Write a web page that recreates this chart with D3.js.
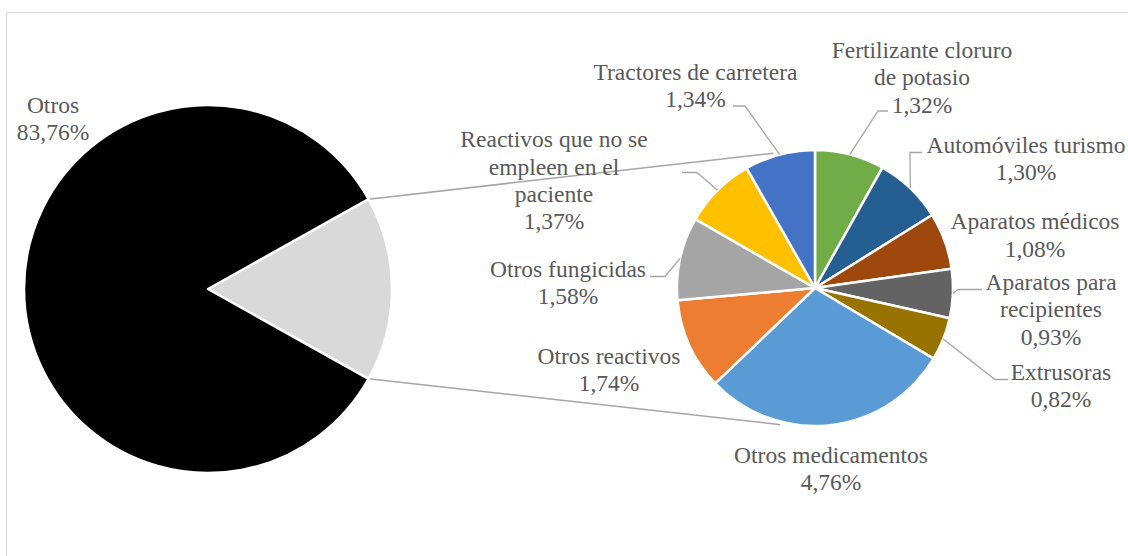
<!DOCTYPE html>
<html>
<head>
<meta charset="utf-8">
<script src="https://cdn.jsdelivr.net/npm/d3@7"></script>
<style>
  html, body { margin: 0; padding: 0; background: #ffffff; }
  svg { display: block; }
  text { font-family: "Times New Roman", "Liberation Serif", Tinos, "DejaVu Serif", serif; font-size: 23.5px; fill: #595959; }
</style>
</head>
<body>
<svg id="chart" width="1128" height="556"></svg>
<script>
// Main pie: the large share plus the aggregate broken out in the detail pie
const mainCategories = ["Otros"];
const mainValues = [83.76];
const mainColors = ["#000000", "#D9D9D9"];

// Detail pie, clockwise from 12 o'clock
const detailCategories = [
  "Fertilizante cloruro de potasio",
  "Automóviles turismo",
  "Aparatos médicos",
  "Aparatos para recipientes",
  "Extrusoras",
  "Otros medicamentos",
  "Otros reactivos",
  "Otros fungicidas",
  "Reactivos que no se empleen en el paciente",
  "Tractores de carretera"
];
const detailValues = [1.32, 1.30, 1.08, 0.93, 0.82, 4.76, 1.74, 1.58, 1.37, 1.34];
const detailLabelLines = [
  ["Fertilizante cloruro", "de potasio"],
  ["Automóviles turismo"],
  ["Aparatos médicos"],
  ["Aparatos para", "recipientes"],
  ["Extrusoras"],
  ["Otros medicamentos"],
  ["Otros reactivos"],
  ["Otros fungicidas"],
  ["Reactivos que no se", "empleen en el", "paciente"],
  ["Tractores de carretera"]
];
const detailColors = ["#70AD47", "#255E91", "#9E480E", "#636363", "#997300",
                      "#5B9BD5", "#ED7D31", "#A5A5A5", "#FFC000", "#4472C4"];

// ---- layout ----
const W = 1128, H = 556;
const main = { cx: 208, cy: 289, r: 184 };
const detail = { cx: 815, cy: 288, r: 138 };
const lineStep = 27.3;
const fontFamily = '"Times New Roman", "Liberation Serif", Tinos, "DejaVu Serif", serif';
const connectorAngles = [-17.2, 194.3]; // degrees, where the joining lines meet the detail pie

// Label anchors (centre x, first baseline y) and leader elbows
const labelLayout = {
  "Otros": { x: 53, y: 112.7 },
  "Fertilizante cloruro de potasio": { x: 922, y: 58, leader: [[888, 111], [878, 111]] },
  "Automóviles turismo": { x: 1026, y: 153, leader: [[922, 152.5], [910, 152.5]] },
  "Aparatos médicos": { x: 1035, y: 229.3 },
  "Aparatos para recipientes": { x: 1051, y: 290, leader: [[982, 289.5], [958, 289.5]] },
  "Extrusoras": { x: 1061, y: 380, leader: [[1008, 379.5], [995, 379.5]] },
  "Otros medicamentos": { x: 831, y: 462.7 },
  "Otros reactivos": { x: 609, y: 364 },
  "Otros fungicidas": { x: 568, y: 276.7, leader: [[650, 276.5], [665, 276.5]] },
  "Reactivos que no se empleen en el paciente": { x: 554, y: 147.3, leader: [[682, 172.5], [697, 172.5]] },
  "Tractores de carretera": { x: 695.5, y: 80, leader: [[733, 106], [745, 106]] }
};

const locale = d3.formatLocale({ decimal: ",", thousands: ".", grouping: [3], currency: ["", " €"] });
const fmtPct = v => locale.format(".2f")(v) + "%";

const svg = d3.select("#chart");

// chart area frame
svg.append("rect")
  .attr("x", 6.5).attr("y", 12.5)
  .attr("width", W + 10).attr("height", H + 10)
  .attr("fill", "#ffffff")
  .attr("stroke", "#D9D9D9").attr("stroke-width", 1);

const restTotal = d3.sum(detailValues);
const mainData = [
  { name: "rest", value: restTotal, color: mainColors[1] },
  { name: mainCategories[0], value: mainValues[0], color: mainColors[0] }
];
const mainTotal = d3.sum(mainData, d => d.value);
const restAngle = restTotal / mainTotal * 2 * Math.PI;
const mainStart = Math.PI / 2 - restAngle / 2;

const mainPie = d3.pie().sort(null).value(d => d.value)
  .startAngle(mainStart).endAngle(mainStart + 2 * Math.PI);
const mainArcs = mainPie(mainData);

const detailPie = d3.pie().sort(null).value(d => d.value)
  .startAngle(0).endAngle(2 * Math.PI);
const detailData = detailCategories.map((c, i) => ({
  name: c, value: detailValues[i], color: detailColors[i], lines: detailLabelLines[i]
}));
const detailArcs = detailPie(detailData);

const polar = (c, r, a) => [c.cx + r * Math.sin(a), c.cy - r * Math.cos(a)];

// joining lines between the aggregate slice and the detail pie
const restArc = mainArcs[0];
const connectors = [
  [polar(main, main.r, restArc.startAngle), polar(detail, detail.r + 3, connectorAngles[0] * Math.PI / 180)],
  [polar(main, main.r, restArc.endAngle), polar(detail, detail.r + 3, connectorAngles[1] * Math.PI / 180)]
];
svg.append("g").selectAll("line").data(connectors).join("line")
  .attr("x1", d => d[0][0]).attr("y1", d => d[0][1])
  .attr("x2", d => d[1][0]).attr("y2", d => d[1][1])
  .attr("stroke", "#A5A5A5").attr("stroke-width", 1.5);

// main pie
const mainArcGen = d3.arc().innerRadius(0).outerRadius(main.r);
svg.append("g").attr("transform", `translate(${main.cx},${main.cy})`)
  .selectAll("path").data(mainArcs).join("path")
  .attr("d", mainArcGen)
  .attr("fill", d => d.data.color)
  .attr("stroke", "#ffffff").attr("stroke-width", 2.5).attr("stroke-linejoin", "round");

// detail pie
const detailArcGen = d3.arc().innerRadius(0).outerRadius(detail.r);
svg.append("g").attr("transform", `translate(${detail.cx},${detail.cy})`)
  .selectAll("path").data(detailArcs).join("path")
  .attr("d", detailArcGen)
  .attr("fill", d => d.data.color)
  .attr("stroke", "#ffffff").attr("stroke-width", 2.5).attr("stroke-linejoin", "round");

// leader lines
const leaderData = detailArcs.filter(d => labelLayout[d.data.name].leader).map(d => {
  const mid = (d.startAngle + d.endAngle) / 2;
  return labelLayout[d.data.name].leader.concat([polar(detail, detail.r, mid)]);
});
svg.append("g").selectAll("path").data(leaderData).join("path")
  .attr("d", d3.line())
  .attr("fill", "none")
  .attr("stroke", "#A6A6A6").attr("stroke-width", 1.3);

// labels
function drawLabel(lines, pos) {
  const t = svg.append("text")
    .attr("text-anchor", "middle")
    .attr("font-family", fontFamily)
    .style("font-family", fontFamily);
  lines.forEach((s, i) => {
    t.append("tspan").attr("x", pos.x).attr("y", pos.y + i * lineStep).text(s);
  });
}
drawLabel([mainCategories[0], fmtPct(mainValues[0])], labelLayout[mainCategories[0]]);
detailArcs.forEach(d => {
  drawLabel(d.data.lines.concat([fmtPct(d.data.value)]), labelLayout[d.data.name]);
});
</script>
</body>
</html>
